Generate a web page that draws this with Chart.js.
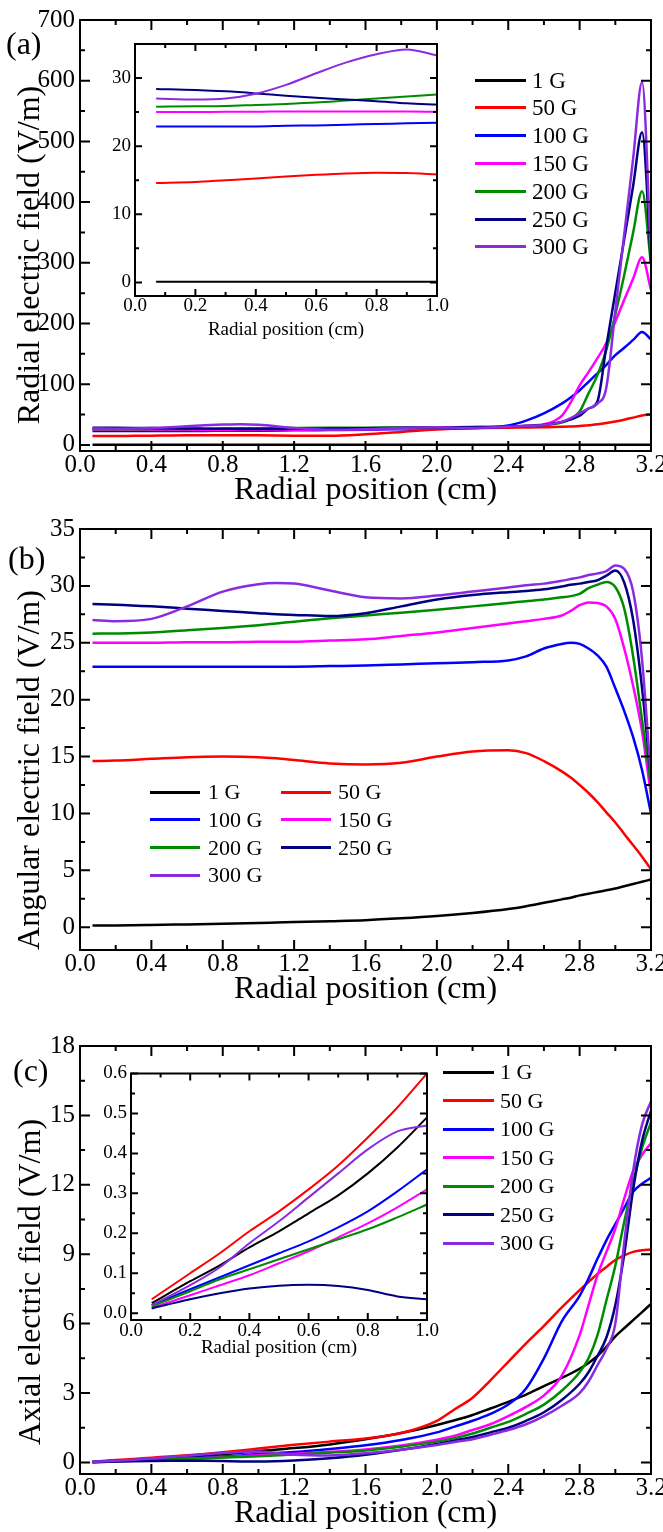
<!DOCTYPE html>
<html lang="en">

<head>
    <meta charset="UTF-8">
    <title>Electric field components vs radial position</title>
    <script src="https://cdn.jsdelivr.net/npm/chart.js"></script>
    <style>
        body {
            margin: 0;
            width: 663px;
            height: 1532px;
            overflow: hidden;
            background: #fff;
            position: relative;
            font-family: "Liberation Serif", "DejaVu Serif", serif;
            color: #000;
        }

        canvas {
            position: absolute;
        }

        .tag {
            position: absolute;
            font-size: 32px;
            line-height: 32px;
        }

        .y-title {
            position: absolute;
            font-size: 32px;
            line-height: 32px;
            white-space: nowrap;
            transform: translate(-50%, -50%) rotate(-90deg);
        }

        .key-line {
            position: absolute;
            height: 3px;
        }

        .key-text {
            position: absolute;
            white-space: nowrap;
        }
    </style>
</head>

<body>
    <canvas id="chartA"></canvas>
    <canvas id="chartB"></canvas>
    <canvas id="chartC"></canvas>
    <canvas id="insetA"></canvas>
    <canvas id="insetC"></canvas>

    <div class="tag" style="left:6px; top:27px;">(a)</div>
    <div class="tag" style="left:8px; top:542px;">(b)</div>
    <div class="tag" style="left:13px; top:1054px;">(c)</div>

    <div class="y-title" style="left:28px; top:255px;">Radial electric field (V/m)</div>
    <div class="y-title" style="left:28px; top:770px;">Angular electric field (V/m)</div>
    <div class="y-title" style="left:29px; top:1282px;">Axial electric field (V/m)</div>

    <div id="keys"></div>

    <script>
        const FONT = '"Liberation Serif", "DejaVu Serif", serif';

        // magnetic field values and their line colours
        const fieldLabels = ['1 G', '50 G', '100 G', '150 G', '200 G', '250 G', '300 G'];
        const fieldColors = ['#000000', '#ff0000', '#0000ff', '#ff00ff', '#008c00', '#000080', '#8a2be2'];

        // tick values
        const posTicks = [0.0, 0.4, 0.8, 1.2, 1.6, 2.0, 2.4, 2.8, 3.2];
        const insetPosTicks = [0.0, 0.2, 0.4, 0.6, 0.8, 1.0];
        const radialTicks = [0, 100, 200, 300, 400, 500, 600, 700];
        const radialInsetTicks = [0, 10, 20, 30];
        const angularTicks = [0, 5, 10, 15, 20, 25, 30, 35];
        const axialTicks = [0, 3, 6, 9, 12, 15, 18];
        const axialInsetTicks = [0.0, 0.1, 0.2, 0.3, 0.4, 0.5, 0.6];

        // (a) radial electric field (V/m)
        const radialPos = [0.07, 0.2, 0.3, 0.4, 0.5, 0.6, 0.7, 0.8, 0.9, 1.0, 1.2, 1.4, 1.6, 1.8, 2.0, 2.2, 2.4, 2.5, 2.6, 2.7, 2.75, 2.8, 2.85, 2.9, 2.95, 3.0, 3.05, 3.1, 3.15, 3.2];
        const radial1G = [0.1, 0.1, 0.1, 0.1, 0.1, 0.1, 0.1, 0.1, 0.1, 0.1, 0.1, 0.1, 0.1, 0.1, 0.15, 0.15, 0.2, 0.2, 0.25, 0.3, 0.3, 0.35, 0.35, 0.4, 0.4, 0.45, 0.45, 0.5, 0.5, 0.5];
        const radial50G = [14.6, 14.75, 15.0, 15.25, 15.55, 15.8, 16.0, 16.1, 16.05, 15.85, 15.3, 15.0, 17.5, 21.5, 25.5, 27.5, 28.5, 28.8, 29.2, 29.8, 30.3, 31, 32.5, 34, 36, 38.5, 41.5, 45, 48.5, 50];
        const radial100G = [22.9, 22.9, 22.9, 22.9, 23.0, 23.05, 23.15, 23.25, 23.35, 23.45, 24, 24.5, 25, 26, 27, 28, 32, 40, 52, 68, 78, 90, 104, 118, 132, 148, 160, 173, 186, 174];
        const radial150G = [25.0, 25.0, 25.05, 25.05, 25.1, 25.1, 25.1, 25.1, 25.1, 25.05, 25.2, 25.5, 26, 26.7, 27.5, 28.5, 30, 31.5, 34, 48, 70, 98, 120, 143, 168, 203, 239, 274, 309, 255];
        const radial200G = [25.8, 25.85, 25.9, 26.05, 26.2, 26.4, 26.7, 27.0, 27.3, 27.6, 28, 28.3, 28.5, 28.8, 29, 29.3, 30, 31, 33, 37, 43, 55, 85, 115, 157, 215, 280, 350, 418, 298];
        const radial250G = [28.4, 28.25, 28.05, 27.75, 27.4, 27.1, 26.85, 26.6, 26.3, 26.1, 26.5, 27, 27.5, 28.5, 29, 29.5, 30, 31, 33, 38, 42, 48, 60, 72, 163, 251, 339, 427, 515, 300];
        const radial300G = [27.0, 26.85, 27.0, 27.7, 29.0, 30.7, 32.3, 33.5, 34.2, 33.3, 28, 25, 26, 28, 29, 28, 30, 31, 33, 38, 44, 52, 60, 68, 95, 221, 347, 472, 598, 310];

        // (b) angular electric field (V/m)
        const angularPos = [0.07, 0.2, 0.4, 0.6, 0.8, 1.0, 1.1, 1.2, 1.4, 1.6, 1.8, 2.0, 2.2, 2.4, 2.5, 2.6, 2.7, 2.75, 2.8, 2.85, 2.9, 2.95, 3.0, 3.05, 3.1, 3.15, 3.2];
        const angular1G = [0.15, 0.16, 0.2, 0.25, 0.3, 0.37, 0.41, 0.45, 0.53, 0.62, 0.78, 0.98, 1.25, 1.6, 1.85, 2.15, 2.45, 2.6, 2.8, 2.95, 3.1, 3.25, 3.4, 3.6, 3.8, 4.0, 4.2];
        const angular50G = [14.6, 14.65, 14.8, 14.95, 15.0, 14.95, 14.85, 14.7, 14.4, 14.3, 14.45, 15.0, 15.45, 15.55, 15.3, 14.6, 13.7, 13.15, 12.5, 11.8, 11.0, 10.1, 9.2, 8.2, 7.2, 6.2, 5.1];
        const angular100G = [22.9, 22.9, 22.9, 22.9, 22.9, 22.9, 22.9, 22.9, 22.95, 23.0, 23.1, 23.2, 23.3, 23.45, 23.8, 24.5, 24.9, 25.0, 24.9, 24.5, 23.9, 22.9, 21.0, 19.0, 16.7, 13.8, 10.0];
        const angular150G = [25.0, 25.0, 25.0, 25.05, 25.05, 25.1, 25.1, 25.1, 25.2, 25.3, 25.6, 25.9, 26.3, 26.7, 26.9, 27.1, 27.4, 27.8, 28.3, 28.55, 28.5, 28.2, 27.1, 24.5, 21.2, 17.2, 11.6];
        const angular200G = [25.8, 25.82, 25.9, 26.1, 26.3, 26.55, 26.7, 26.85, 27.15, 27.4, 27.65, 27.9, 28.2, 28.5, 28.65, 28.8, 29.0, 29.1, 29.3, 29.8, 30.1, 30.35, 29.9, 28.0, 23.8, 18.2, 12.5];
        const angular250G = [28.4, 28.35, 28.2, 28.0, 27.8, 27.6, 27.5, 27.45, 27.35, 27.6, 28.2, 28.8, 29.2, 29.45, 29.55, 29.7, 29.95, 30.1, 30.2, 30.35, 30.5, 30.9, 31.35, 30.3, 27.0, 21.0, 13.0];
        const angular300G = [27.0, 26.9, 27.1, 28.2, 29.5, 30.15, 30.25, 30.2, 29.6, 29.0, 28.9, 29.15, 29.5, 29.85, 30.05, 30.2, 30.45, 30.6, 30.75, 30.95, 31.1, 31.3, 31.8, 31.5, 29.5, 23.5, 13.0];

        // (c) axial electric field (V/m)
        const axialPos = [0.07, 0.2, 0.3, 0.4, 0.5, 0.6, 0.7, 0.8, 0.9, 1.0, 1.2, 1.4, 1.6, 1.8, 2.0, 2.1, 2.2, 2.3, 2.4, 2.5, 2.6, 2.7, 2.8, 2.85, 2.9, 2.95, 3.0, 3.05, 3.1, 3.15, 3.2];
        const axial1G = [0.025, 0.08, 0.12, 0.165, 0.205, 0.25, 0.295, 0.35, 0.415, 0.49, 0.62, 0.78, 1.0, 1.27, 1.62, 1.82, 2.05, 2.33, 2.62, 2.93, 3.3, 3.65, 4.05, 4.3, 4.6, 5.0, 5.45, 5.8, 6.15, 6.5, 6.85];
        const axial50G = [0.035, 0.10, 0.15, 0.205, 0.255, 0.31, 0.37, 0.44, 0.515, 0.6, 0.76, 0.9, 1.03, 1.27, 1.8, 2.3, 2.8, 3.55, 4.35, 5.15, 5.9, 6.7, 7.45, 7.8, 8.15, 8.45, 8.75, 8.95, 9.1, 9.17, 9.2];
        const axial100G = [0.02, 0.06, 0.09, 0.12, 0.15, 0.18, 0.215, 0.255, 0.305, 0.36, 0.45, 0.58, 0.74, 0.97, 1.3, 1.55, 1.8, 2.1, 2.5, 3.2, 4.5, 6.1, 7.2, 7.95, 8.8, 9.6, 10.3, 11.0, 11.7, 12.05, 12.3];
        const axial150G = [0.013, 0.045, 0.07, 0.095, 0.125, 0.155, 0.19, 0.225, 0.265, 0.31, 0.38, 0.46, 0.56, 0.73, 0.98, 1.15, 1.4, 1.65, 2.0, 2.4, 2.9, 3.75, 5.5, 6.8, 8.1, 9.1, 10.1, 11.4, 12.6, 13.3, 13.8];
        const axial200G = [0.017, 0.055, 0.085, 0.11, 0.135, 0.16, 0.185, 0.21, 0.24, 0.272, 0.34, 0.42, 0.52, 0.68, 0.9, 1.05, 1.25, 1.5, 1.75, 2.1, 2.5, 3.1, 3.9, 4.5, 5.5, 7.0, 8.5, 10.4, 12.1, 13.6, 14.7];
        const axial250G = [0.012, 0.035, 0.05, 0.062, 0.069, 0.071, 0.068, 0.058, 0.042, 0.035, 0.08, 0.18, 0.33, 0.55, 0.8, 0.95, 1.1, 1.3, 1.5, 1.8, 2.17, 2.7, 3.4, 3.9, 4.6, 5.4, 6.8, 9.0, 11.8, 13.9, 15.2];
        const axial300G = [0.02, 0.07, 0.115, 0.175, 0.23, 0.29, 0.35, 0.41, 0.455, 0.47, 0.33, 0.3, 0.4, 0.55, 0.75, 0.88, 1.0, 1.2, 1.4, 1.65, 2.0, 2.45, 3.0, 3.5, 4.2, 4.9, 6.0, 9.5, 12.6, 14.6, 15.6];

        // closed frame with inward major/minor ticks on all four sides
        const frameTicks = {
            id: 'frameTicks',
            beforeDatasetsDraw(chart, args, o) {
                if (!o.fill) return;
                const a = chart.chartArea;
                chart.ctx.save();
                chart.ctx.fillStyle = o.fill;
                chart.ctx.fillRect(a.left, a.top, a.right - a.left, a.bottom - a.top);
                chart.ctx.restore();
            },
            afterDatasetsDraw(chart, args, o) {
                const { ctx, chartArea: a, scales } = chart;
                const withMinor = vals => {
                    const out = [];
                    vals.forEach((v, i) => {
                        out.push([v, o.major]);
                        if (i < vals.length - 1) out.push([(v + vals[i + 1]) / 2, o.minor]);
                    });
                    return out;
                };
                ctx.save();
                ctx.strokeStyle = '#000';
                ctx.lineWidth = o.tickWidth;
                ctx.beginPath();
                withMinor(o.xTicks).forEach(([v, len]) => {
                    const px = scales.x.getPixelForValue(v);
                    ctx.moveTo(px, a.bottom); ctx.lineTo(px, a.bottom - len);
                    ctx.moveTo(px, a.top); ctx.lineTo(px, a.top + len);
                });
                withMinor(o.yTicks).forEach(([v, len]) => {
                    const py = scales.y.getPixelForValue(v);
                    ctx.moveTo(a.left, py); ctx.lineTo(a.left + len, py);
                    ctx.moveTo(a.right, py); ctx.lineTo(a.right - len, py);
                });
                ctx.stroke();
                ctx.lineWidth = o.frameWidth;
                ctx.strokeRect(a.left, a.top, a.right - a.left, a.bottom - a.top);
                ctx.restore();
            }
        };

        function fieldChart(id, box, area, s) {
            const canvas = document.getElementById(id);
            canvas.width = box.w;
            canvas.height = box.h;
            canvas.style.left = box.x + 'px';
            canvas.style.top = box.y + 'px';

            const datasets = s.series.map((ys, i) => ({
                label: fieldLabels[i],
                data: s.xs.map((x, k) => ({ x: x, y: ys[k] })).filter(p => p.x <= s.xMax + 1e-9),
                borderColor: fieldColors[i],
                borderWidth: s.lineWidth,
                pointRadius: 0,
                fill: false,
                cubicInterpolationMode: 'monotone',
                order: s.series.length - i
            }));

            return new Chart(canvas, {
                type: 'line',
                data: { datasets: datasets },
                plugins: [frameTicks],
                options: {
                    responsive: false,
                    animation: false,
                    events: [],
                    layout: {
                        padding: { left: 0, top: area.top - box.y, right: box.x + box.w - area.right, bottom: 0 }
                    },
                    plugins: {
                        legend: { display: false },
                        tooltip: { enabled: false },
                        frameTicks: {
                            xTicks: s.xTicks, yTicks: s.yTicks, major: s.major, minor: s.minor,
                            tickWidth: s.frameWidth, frameWidth: s.frameWidth, fill: s.fill
                        }
                    },
                    scales: {
                        x: {
                            type: 'linear', min: 0, max: s.xMax,
                            grid: { display: false, drawTicks: false },
                            border: { display: false },
                            afterBuildTicks: sc => { sc.ticks = s.xTicks.map(v => ({ value: v })); },
                            afterFit: sc => { sc.height = box.y + box.h - area.bottom; },
                            ticks: {
                                color: '#000', autoSkip: false, maxRotation: 0, padding: s.xTickPad,
                                font: { family: FONT, size: s.tickSize, lineHeight: 1 },
                                callback: v => v.toFixed(1)
                            },
                            title: {
                                display: true, text: 'Radial position (cm)', color: '#000',
                                font: { family: FONT, size: s.titleSize, lineHeight: 1 },
                                padding: { top: 0, bottom: s.xTitlePad }
                            }
                        },
                        y: {
                            type: 'linear', min: s.yMin, max: s.yMax,
                            grid: { display: false, drawTicks: false },
                            border: { display: false },
                            afterBuildTicks: sc => { sc.ticks = s.yTicks.map(v => ({ value: v })); },
                            afterFit: sc => { sc.width = area.left - box.x; },
                            ticks: {
                                color: '#000', autoSkip: false, padding: s.yTickPad,
                                font: { family: FONT, size: s.tickSize, lineHeight: 1 },
                                callback: v => v.toFixed(s.yDigits)
                            }
                        }
                    }
                }
            });
        }

        const mainStyle = {
            xMax: 3.2, xTicks: posTicks, tickSize: 25, titleSize: 32, lineWidth: 2.5,
            major: 10, minor: 5, frameWidth: 2, xTickPad: 2, yTickPad: 5, yDigits: 0
        };
        const insetStyle = {
            xMax: 1.0, xTicks: insetPosTicks, tickSize: 19, titleSize: 19, lineWidth: 2,
            major: 7, minor: 4, frameWidth: 2, yTickPad: 4, fill: '#fff'
        };

        fieldChart('chartA', { x: 0, y: 0, w: 690, h: 510 }, { left: 80, top: 20, right: 651, bottom: 451 },
            Object.assign({}, mainStyle, {
                xs: radialPos,
                series: [radial1G, radial50G, radial100G, radial150G, radial200G, radial250G, radial300G],
                yMin: -10, yMax: 700, yTicks: radialTicks, xTitlePad: 3
            }));

        fieldChart('chartB', { x: 0, y: 510, w: 690, h: 510 }, { left: 80, top: 529, right: 651, bottom: 950 },
            Object.assign({}, mainStyle, {
                xs: angularPos,
                series: [angular1G, angular50G, angular100G, angular150G, angular200G, angular250G, angular300G],
                yMin: -2, yMax: 35, yTicks: angularTicks, xTitlePad: 14
            }));

        fieldChart('chartC', { x: 0, y: 1020, w: 690, h: 512 }, { left: 80, top: 1046, right: 651, bottom: 1474 },
            Object.assign({}, mainStyle, {
                xs: axialPos,
                series: [axial1G, axial50G, axial100G, axial150G, axial200G, axial250G, axial300G],
                yMin: -0.5, yMax: 18, yTicks: axialTicks, xTitlePad: 2
            }));

        fieldChart('insetA', { x: 85, y: 30, w: 375, h: 320 }, { left: 135, top: 44, right: 437, bottom: 296 },
            Object.assign({}, insetStyle, {
                xs: radialPos,
                series: [radial1G, radial50G, radial100G, radial150G, radial200G, radial250G, radial300G],
                yMin: -2, yMax: 35, yTicks: radialInsetTicks, yDigits: 0, xTickPad: 1, xTitlePad: 10
            }));

        fieldChart('insetC', { x: 80, y: 1060, w: 370, h: 300 }, { left: 131, top: 1073, right: 427, bottom: 1320 },
            Object.assign({}, insetStyle, {
                xs: axialPos,
                series: [axial1G, axial50G, axial100G, axial150G, axial200G, axial250G, axial300G],
                yMin: -0.017, yMax: 0.6, yTicks: axialInsetTicks, yDigits: 1, xTickPad: 2, xTitlePad: 2
            }));

        // legends: line sample + label, one entry per field value
        const keys = document.getElementById('keys');
        function addKey(i, lineLeft, lineWidth, textLeft, y, size) {
            const line = document.createElement('div');
            line.className = 'key-line';
            line.style.cssText = `left:${lineLeft}px; top:${y - 1.5}px; width:${lineWidth}px; background:${fieldColors[i]};`;
            const text = document.createElement('div');
            text.className = 'key-text';
            text.style.cssText = `left:${textLeft}px; top:${y - size / 2}px; font-size:${size}px; line-height:${size}px;`;
            text.textContent = fieldLabels[i];
            keys.appendChild(line);
            keys.appendChild(text);
        }

        fieldLabels.forEach((_, i) => addKey(i, 475, 51, 532, 80 + i * 27.8, 23));
        [0, 2, 4, 6].forEach((i, r) => addKey(i, 150, 50, 208, 792 + r * 27.8, 22));
        [1, 3, 5].forEach((i, r) => addKey(i, 281, 50, 338, 792 + r * 27.8, 22));
        fieldLabels.forEach((_, i) => addKey(i, 443, 51, 500, 1072 + i * 28.5, 22));
    </script>
</body>

</html>
